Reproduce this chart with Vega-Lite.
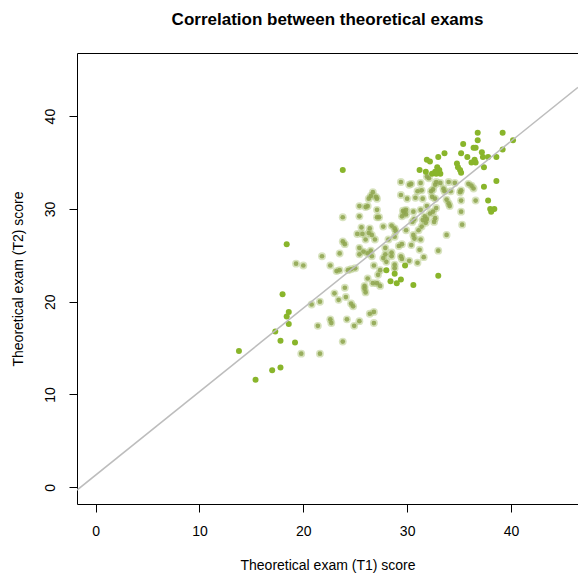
{
  "$schema": "https://vega.github.io/schema/vega-lite/v6.json",
  "width": 501,
  "height": 451,
  "autosize": "none",
  "padding": {"left": 77, "top": 53, "right": 0, "bottom": 72},
  "background": "white",
  "title": {"text": "Correlation between theoretical exams", "font": "Liberation Sans", "fontSize": 17, "fontWeight": "bold", "color": "#000", "anchor": "middle", "frame": "group", "offset": 24},
  "config": {
    "view": {"stroke": null},
    "axis": {"labelFont": "Liberation Sans", "titleFont": "Liberation Sans", "labelFontSize": 14, "titleFontSize": 14, "labelColor": "#000", "titleColor": "#000", "titleFontWeight": "normal", "domainColor": "#000", "tickColor": "#000", "grid": false, "tickSize": 8, "domainWidth": 1, "tickWidth": 1}
  },
  "datasets": {
    "pts": [
      {"t1":23.8,"t2":34.2,"k":"s"},{"t1":31.2,"t2":34.2,"k":"s"},
      {"t1":36.8,"t2":38.2,"k":"s"},{"t1":39.2,"t2":38.2,"k":"s"},{"t1":36.8,"t2":37.4,"k":"s"},{"t1":40.2,"t2":37.4,"k":"s"},{"t1":35.4,"t2":37.0,"k":"s"},{"t1":36.4,"t2":36.6,"k":"s"},{"t1":36.6,"t2":36.6,"k":"s"},{"t1":37.2,"t2":36.1,"k":"s"},{"t1":37.3,"t2":35.6,"k":"s"},{"t1":39.2,"t2":36.4,"k":"s"},{"t1":33.6,"t2":36.0,"k":"s"},{"t1":33.0,"t2":35.6,"k":"s"},{"t1":35.2,"t2":36.0,"k":"s"},{"t1":35.8,"t2":35.6,"k":"s"},{"t1":37.8,"t2":35.6,"k":"s"},{"t1":38.6,"t2":35.6,"k":"s"},{"t1":31.9,"t2":35.3,"k":"s"},{"t1":32.2,"t2":35.1,"k":"s"},{"t1":36.5,"t2":35.3,"k":"s"},{"t1":36.2,"t2":35.0,"k":"s"},{"t1":36.6,"t2":35.0,"k":"s"},{"t1":34.8,"t2":34.9,"k":"s"},{"t1":34.9,"t2":34.5,"k":"s"},{"t1":35.1,"t2":34.2,"k":"s"},{"t1":35.2,"t2":33.9,"k":"s"},{"t1":32.9,"t2":34.5,"k":"s"},{"t1":33.1,"t2":34.2,"k":"s"},{"t1":32.7,"t2":34.0,"k":"s"},{"t1":32.4,"t2":33.8,"k":"s"},{"t1":33.2,"t2":33.8,"k":"s"},{"t1":32.8,"t2":33.8,"k":"s"},{"t1":31.8,"t2":34.0,"k":"s"},{"t1":37.4,"t2":34.5,"k":"s"},{"t1":38.6,"t2":33.0,"k":"s"},{"t1":37.4,"t2":32.4,"k":"s"},{"t1":37.8,"t2":30.9,"k":"s"},{"t1":38.0,"t2":30.0,"k":"s"},{"t1":38.4,"t2":30.0,"k":"s"},{"t1":38.1,"t2":29.7,"k":"s"},
      {"t1":33.0,"t2":22.8,"k":"s"},
      {"t1":28.0,"t2":23.4,"k":"s"},{"t1":28.8,"t2":23.0,"k":"s"},{"t1":29.8,"t2":23.9,"k":"s"},{"t1":28.4,"t2":22.2,"k":"s"},{"t1":29.0,"t2":22.0,"k":"s"},{"t1":29.4,"t2":22.4,"k":"s"},{"t1":30.6,"t2":21.8,"k":"s"},
      {"t1":18.0,"t2":20.8,"k":"s"},{"t1":18.6,"t2":18.9,"k":"s"},{"t1":18.4,"t2":18.4,"k":"s"},{"t1":18.6,"t2":17.6,"k":"s"},{"t1":17.3,"t2":16.8,"k":"s"},{"t1":17.8,"t2":15.8,"k":"s"},{"t1":19.2,"t2":15.6,"k":"s"},{"t1":13.8,"t2":14.7,"k":"s"},{"t1":17.8,"t2":12.9,"k":"s"},{"t1":17.0,"t2":12.6,"k":"s"},{"t1":15.4,"t2":11.6,"k":"s"},{"t1":18.4,"t2":26.2,"k":"s"},
      {"t1":29.4,"t2":32.9,"k":"b"},{"t1":30.2,"t2":32.6,"k":"b"},{"t1":30.4,"t2":32.7,"k":"b"},{"t1":31.3,"t2":32.8,"k":"b"},{"t1":31.4,"t2":32.0,"k":"b"},{"t1":31.0,"t2":31.9,"k":"b"},
      {"t1":26.7,"t2":31.8,"k":"b"},{"t1":26.5,"t2":31.4,"k":"b"},{"t1":27.0,"t2":31.3,"k":"b"},{"t1":26.3,"t2":31.1,"k":"b"},{"t1":27.1,"t2":31.1,"k":"b"},
      {"t1":29.4,"t2":31.5,"k":"b"},{"t1":30.0,"t2":31.1,"k":"b"},{"t1":30.8,"t2":31.2,"k":"b"},{"t1":25.4,"t2":30.3,"k":"b"},{"t1":26.2,"t2":30.3,"k":"b"},{"t1":26.0,"t2":30.2,"k":"b"},{"t1":27.1,"t2":29.9,"k":"b"},
      {"t1":29.6,"t2":29.8,"k":"b"},{"t1":29.9,"t2":29.9,"k":"b"},{"t1":29.7,"t2":29.6,"k":"b"},{"t1":30.6,"t2":29.7,"k":"b"},{"t1":31.3,"t2":29.9,"k":"b"},
      {"t1":23.8,"t2":29.1,"k":"b"},{"t1":25.4,"t2":29.2,"k":"b"},{"t1":27.1,"t2":29.1,"k":"b"},{"t1":27.3,"t2":29.1,"k":"b"},{"t1":29.5,"t2":29.2,"k":"b"},{"t1":29.9,"t2":29.4,"k":"b"},{"t1":30.7,"t2":28.9,"k":"b"},{"t1":30.5,"t2":28.6,"k":"b"},
      {"t1":25.6,"t2":28.0,"k":"b"},{"t1":26.4,"t2":27.9,"k":"b"},{"t1":27.7,"t2":28.1,"k":"b"},{"t1":28.5,"t2":28.2,"k":"b"},{"t1":28.8,"t2":27.9,"k":"b"},{"t1":28.9,"t2":27.6,"k":"b"},{"t1":29.9,"t2":27.7,"k":"b"},{"t1":31.1,"t2":27.7,"k":"b"},{"t1":31.4,"t2":28.1,"k":"b"},
      {"t1":25.2,"t2":27.3,"k":"b"},{"t1":25.7,"t2":27.3,"k":"b"},{"t1":26.3,"t2":27.4,"k":"b"},{"t1":26.6,"t2":27.2,"k":"b"},{"t1":26.0,"t2":26.7,"k":"b"},{"t1":26.9,"t2":26.7,"k":"b"},{"t1":28.2,"t2":26.7,"k":"b"},{"t1":28.8,"t2":27.0,"k":"b"},
      {"t1":29.5,"t2":26.2,"k":"b"},{"t1":29.2,"t2":26.0,"k":"b"},{"t1":30.6,"t2":27.2,"k":"b"},{"t1":30.7,"t2":26.8,"k":"b"},{"t1":30.4,"t2":26.1,"k":"b"},{"t1":31.3,"t2":26.7,"k":"b"},
      {"t1":23.8,"t2":26.5,"k":"b"},{"t1":24.0,"t2":26.2,"k":"b"},{"t1":25.4,"t2":25.8,"k":"b"},{"t1":25.8,"t2":25.4,"k":"b"},{"t1":26.5,"t2":25.5,"k":"b"},{"t1":27.9,"t2":25.8,"k":"b"},{"t1":28.5,"t2":25.3,"k":"b"},{"t1":23.5,"t2":25.2,"k":"b"},{"t1":31.2,"t2":25.6,"k":"b"},
      {"t1":31.9,"t2":33.5,"k":"b"},{"t1":32.1,"t2":33.3,"k":"b"},{"t1":32.8,"t2":32.9,"k":"b"},{"t1":33.2,"t2":32.8,"k":"b"},{"t1":32.7,"t2":32.6,"k":"b"},{"t1":34.0,"t2":32.9,"k":"b"},{"t1":34.6,"t2":32.8,"k":"b"},
      {"t1":35.9,"t2":32.7,"k":"b"},{"t1":36.2,"t2":32.5,"k":"b"},{"t1":36.4,"t2":32.2,"k":"b"},{"t1":32.5,"t2":32.1,"k":"b"},{"t1":32.3,"t2":31.9,"k":"b"},{"t1":33.5,"t2":32.2,"k":"b"},{"t1":33.6,"t2":31.9,"k":"b"},{"t1":34.2,"t2":31.9,"k":"b"},
      {"t1":35.2,"t2":32.0,"k":"b"},{"t1":35.1,"t2":31.8,"k":"b"},{"t1":31.5,"t2":31.1,"k":"b"},{"t1":32.4,"t2":31.3,"k":"b"},{"t1":32.7,"t2":31.1,"k":"b"},{"t1":33.8,"t2":31.0,"k":"b"},{"t1":34.0,"t2":30.6,"k":"b"},{"t1":34.1,"t2":30.3,"k":"b"},
      {"t1":35.2,"t2":30.9,"k":"b"},{"t1":36.6,"t2":30.9,"k":"b"},{"t1":31.9,"t2":30.3,"k":"b"},{"t1":32.8,"t2":30.1,"k":"b"},{"t1":32.5,"t2":29.7,"k":"b"},{"t1":32.2,"t2":29.5,"k":"b"},{"t1":35.2,"t2":29.7,"k":"b"},
      {"t1":31.7,"t2":29.2,"k":"b"},{"t1":31.9,"t2":28.9,"k":"b"},{"t1":31.5,"t2":28.8,"k":"b"},{"t1":31.8,"t2":28.5,"k":"b"},{"t1":32.7,"t2":29.0,"k":"b"},{"t1":32.6,"t2":28.6,"k":"b"},{"t1":35.3,"t2":28.3,"k":"b"},{"t1":33.8,"t2":27.2,"k":"b"},{"t1":33.0,"t2":25.5,"k":"b"},
      {"t1":31.6,"t2":24.8,"k":"b"},
      {"t1":22.6,"t2":23.9,"k":"b"},{"t1":23.2,"t2":23.3,"k":"b"},{"t1":23.5,"t2":23.4,"k":"b"},{"t1":24.3,"t2":23.4,"k":"b"},{"t1":24.6,"t2":23.5,"k":"b"},{"t1":25.0,"t2":23.6,"k":"b"},
      {"t1":25.4,"t2":25.1,"k":"b"},{"t1":26.2,"t2":25.2,"k":"b"},{"t1":26.6,"t2":24.9,"k":"b"},{"t1":26.8,"t2":23.9,"k":"b"},{"t1":27.4,"t2":23.4,"k":"b"},{"t1":27.2,"t2":22.9,"k":"b"},
      {"t1":27.7,"t2":24.7,"k":"b"},{"t1":28.0,"t2":24.3,"k":"b"},{"t1":27.9,"t2":25.1,"k":"b"},{"t1":28.5,"t2":24.9,"k":"b"},{"t1":28.8,"t2":24.0,"k":"b"},{"t1":28.8,"t2":23.6,"k":"b"},
      {"t1":29.4,"t2":24.9,"k":"b"},{"t1":29.5,"t2":24.6,"k":"b"},{"t1":30.2,"t2":24.4,"k":"b"},{"t1":31.0,"t2":24.2,"k":"b"},
      {"t1":26.2,"t2":22.5,"k":"b"},{"t1":25.9,"t2":21.7,"k":"b"},{"t1":25.9,"t2":21.4,"k":"b"},{"t1":26.0,"t2":21.0,"k":"b"},{"t1":26.7,"t2":22.0,"k":"b"},{"t1":27.1,"t2":22.0,"k":"b"},{"t1":27.4,"t2":21.7,"k":"b"},
      {"t1":24.0,"t2":21.5,"k":"b"},{"t1":23.0,"t2":20.9,"k":"b"},{"t1":23.4,"t2":20.2,"k":"b"},{"t1":24.1,"t2":20.5,"k":"b"},{"t1":24.6,"t2":19.8,"k":"b"},{"t1":24.8,"t2":19.5,"k":"b"},
      {"t1":26.4,"t2":18.7,"k":"b"},{"t1":26.8,"t2":18.9,"k":"b"},{"t1":22.6,"t2":18.1,"k":"b"},{"t1":22.7,"t2":17.7,"k":"b"},{"t1":24.2,"t2":18.1,"k":"b"},{"t1":24.9,"t2":17.4,"k":"b"},{"t1":25.4,"t2":17.9,"k":"b"},{"t1":26.8,"t2":17.7,"k":"b"},{"t1":23.8,"t2":15.7,"k":"b"},
      {"t1":21.8,"t2":24.9,"k":"b"},{"t1":19.3,"t2":24.1,"k":"b"},{"t1":20.0,"t2":23.9,"k":"b"},{"t1":20.8,"t2":19.7,"k":"b"},{"t1":21.6,"t2":20.0,"k":"b"},{"t1":21.4,"t2":17.4,"k":"b"},{"t1":19.8,"t2":14.4,"k":"b"},{"t1":21.6,"t2":14.4,"k":"b"}
    ],
    "fit": [
      {"t1": -1.8, "t2": -0.3},
      {"t1": 46.46, "t2": 43.1}
    ]
  },
  "encoding": {
    "y": {"field": "t2", "type": "quantitative", "scale": {"domain": [-1.8, 46.8], "nice": false, "zero": false},
          "axis": {"title": "Theoretical exam (T2) score", "values": [0, 10, 20, 30, 40], "labelAngle": -90, "labelAlign": "center", "labelBaseline": "bottom", "labelPadding": 12, "titlePadding": 18}}
  },
  "layer": [
    {
      "data": {"name": "pts"},
      "transform": [{"filter": {"field": "k", "equal": "b"}}],
      "mark": {"type": "circle", "size": 62, "color": "#a8c070", "opacity": 0.45},
      "encoding": {
        "x": {"field": "t1", "type": "quantitative", "scale": {"domain": [-1.8, 46.46], "nice": false, "zero": false},
              "axis": {"title": "Theoretical exam (T1) score", "values": [0, 10, 20, 30, 40], "labelPadding": 12, "titlePadding": 20}}
      }
    },
    {
      "data": {"name": "pts"},
      "transform": [{"filter": {"field": "k", "equal": "b"}}],
      "mark": {"type": "circle", "size": 22, "color": "#8ea54e", "opacity": 0.85},
      "encoding": {
        "x": {"field": "t1", "type": "quantitative", "scale": {"domain": [-1.8, 46.46], "nice": false, "zero": false}, "axis": null}
      }
    },
    {
      "data": {"name": "pts"},
      "transform": [{"filter": {"field": "k", "equal": "s"}}],
      "mark": {"type": "circle", "size": 36, "color": "#89b52b", "opacity": 1},
      "encoding": {
        "x": {"field": "t1", "type": "quantitative", "scale": {"domain": [-1.8, 46.46], "nice": false, "zero": false}, "axis": null}
      }
    },
    {
      "data": {"name": "fit"},
      "mark": {"type": "line", "color": "#bdbdbd", "strokeWidth": 1.5, "clip": true},
      "encoding": {
        "x": {"field": "t1", "type": "quantitative", "scale": {"domain": [-1.8, 46.46], "nice": false, "zero": false},
              "axis": {"orient": "top", "labels": false, "ticks": false, "title": null, "domain": true}}
      }
    }
  ],
  "resolve": {"axis": {"x": "independent"}}
}
